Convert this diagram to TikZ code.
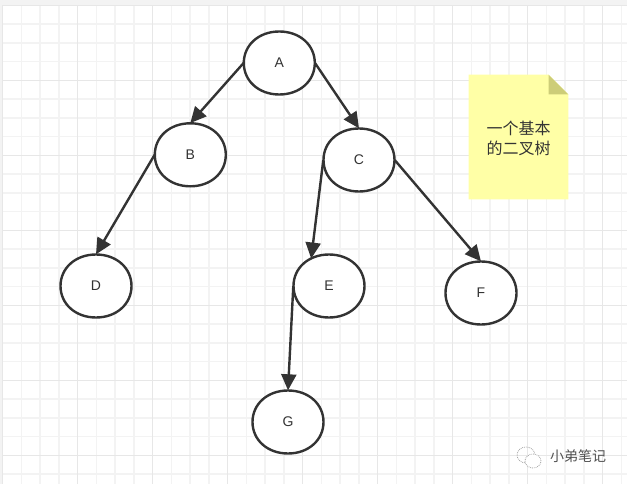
\documentclass[tikz,border=0pt]{standalone}
\usepackage{fontspec}
\setmainfont{Liberation Sans}
\newfontfamily\cjk{Noto Sans CJK SC}
\usetikzlibrary{shapes.geometric,arrows.meta,calc}
\definecolor{ink}{HTML}{333333}
\definecolor{gridminor}{HTML}{F3F3F3}
\definecolor{gridmajor}{HTML}{E7E7E7}
\definecolor{notefill}{HTML}{FFFFA6}
\definecolor{notefold}{HTML}{CDCD78}
\tikzset{
  x=1pt,y=-1pt,
  treenode/.style={ellipse,minimum width=71pt,minimum height=63pt,inner sep=0pt,text=ink,font=\fontsize{14}{16}\selectfont},
  nodeoutline/.style={draw=ink,line width=2.4pt,fill=white},
  edgeline/.style={draw=ink,line width=2.4pt,-{Triangle[length=16pt,width=15pt]}},
  minorline/.style={draw=gridminor,line width=1.5pt},
  majorline/.style={draw=gridmajor,line width=1.5pt},
}
% rounded outline slightly fuller than a true ellipse, drawn round a centre
\newcommand{\blobat}[2]{%
  \draw[nodeoutline] (#1,#2-31.5)
    .. controls (#1+20.5,#2-31.5) and (#1+35.5,#2-18) .. (#1+35.5,#2)
    .. controls (#1+35.5,#2+18) and (#1+20.5,#2+31.5) .. (#1,#2+31.5)
    .. controls (#1-20.5,#2+31.5) and (#1-35.5,#2+18) .. (#1-35.5,#2)
    .. controls (#1-35.5,#2-18) and (#1-20.5,#2-31.5) .. (#1,#2-31.5) -- cycle;
}
\begin{document}
\begin{tikzpicture}
\useasboundingbox (0,0) rectangle (627,484);
\fill[white] (0,0) rectangle (627,484);
% grid
\foreach \i in {0,...,33} {
  \pgfmathsetmacro{\gx}{2.7+18.75*\i}
  \draw[minorline] (\gx,5) -- (\gx,484);
}
\foreach \i in {0,...,26} {
  \pgfmathsetmacro{\gy}{5.3+18.75*\i}
  \draw[minorline] (3,\gy) -- (627,\gy);
}
\foreach \i in {0,...,8} {
  \pgfmathsetmacro{\gx}{2.7+75*\i}
  \draw[majorline] (\gx,5) -- (\gx,484);
}
\foreach \i in {0,...,6} {
  \pgfmathsetmacro{\gy}{5.3+75*\i}
  \draw[majorline] (3,\gy) -- (627,\gy);
}
\fill[gridminor] (0,0) rectangle (627,4.6);
\fill[gridminor] (0,0) rectangle (2,484);
% note
\fill[notefill] (468.7,74.7) -- (548.5,74.7) -- (568.3,94.5) -- (568.3,199.5) -- (468.7,199.5) -- cycle;
\fill[notefold] (548.5,74.7) -- (568.3,94.5) -- (548.5,94.5) -- cycle;
\node[text=ink,font=\cjk\fontsize{16}{20}\selectfont,align=center,inner sep=0pt] (note) at (518.7,138) {一个基本\\的二叉树};
% outlines
\blobat{279.3}{63}
\blobat{190.3}{154.8}
\blobat{359}{160}
\blobat{96}{286}
\blobat{329}{286}
\blobat{481}{293}
\blobat{288}{422}
% nodes
\node[treenode] (A) at (279.3,63) {A};
\node[treenode] (B) at (190.3,154.8) {B};
\node[treenode] (C) at (359,160) {C};
\node[treenode] (D) at (96,286) {D};
\node[treenode] (E) at (329,286) {E};
\node[treenode] (F) at (481,293) {F};
\node[treenode] (G) at (288,422) {G};
% edges
\draw[edgeline] (A.west) -- (B.north);
\draw[edgeline] (A.east) -- (C.north);
\draw[edgeline] (B.west) -- (D.north);
\draw[edgeline] (C.west) -- (E.123);
\draw[edgeline] (C.east) -- (F.north);
\draw[edgeline] (E.west) -- (G.north);
% watermark
\draw[gray!70,densely dotted,line width=.8pt] (526,455) ellipse (9pt and 8pt);
\draw[gray!70,densely dotted,line width=.8pt,fill=white] (533,461) ellipse (8pt and 7pt);
\node[text=ink!85,font=\cjk\fontsize{14}{16}\selectfont,inner sep=0pt] (mark) at (578,456) {小弟笔记};
\end{tikzpicture}
\end{document}
